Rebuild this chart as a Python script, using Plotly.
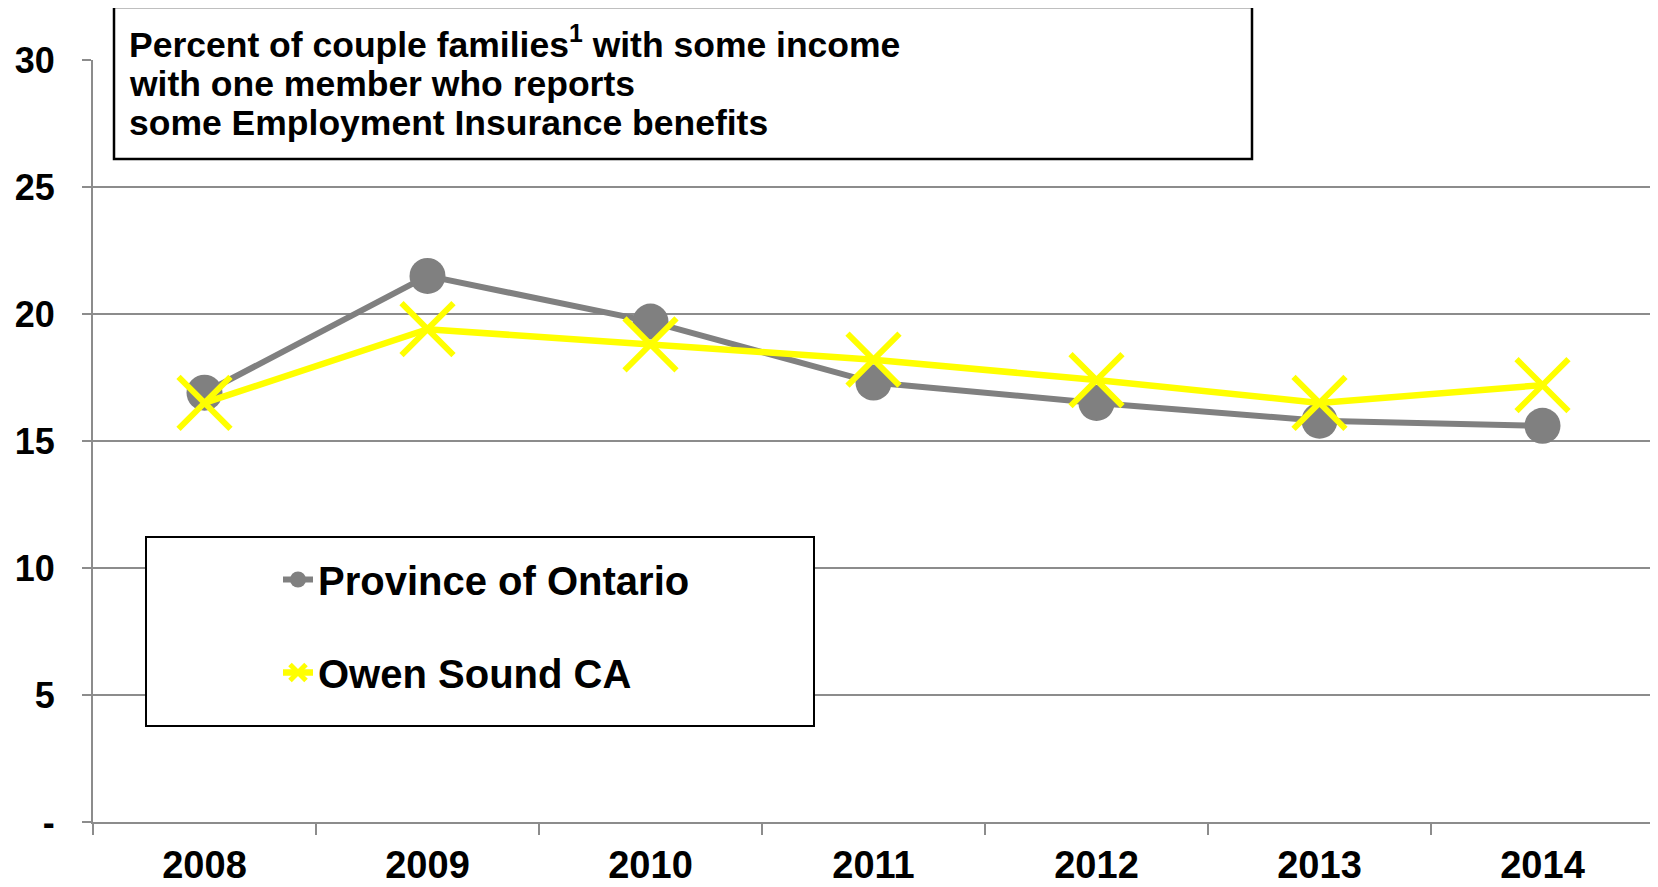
import plotly.graph_objects as go

# ---- data ----
years = ["2008", "2009", "2010", "2011", "2012", "2013", "2014"]
ontario = [16.9, 21.5, 19.7, 17.3, 16.5, 15.8, 15.6]
owen_sound = [16.5, 19.4, 18.8, 18.2, 17.4, 16.5, 17.2]
series_names = ["Province of Ontario", "Owen Sound CA"]
y_tickvals = [0, 5, 10, 15, 20, 25, 30]
y_ticktext = ["-", "5", "10", "15", "20", "25", "30"]
title_lines = [
    "Percent of couple families<sup>1</sup> with some income",
    "with one member who reports",
    "some Employment Insurance benefits",
]

# ---- layout geometry (reference pixels; page body has an 8px margin) ----
OFF = 8
W, H = 1658 - OFF, 887 - OFF
PL, PR, PT, PB = 93, 1654, 60, 822
FONT = "Liberation Sans, Arial, sans-serif"


def px(x):
    return (x - PL) / (PR - PL)


def py(y):
    return (PB - y) / (PB - PT)


GRAY = "#808080"
YELLOW = "#FFFF00"
AXIS_GRAY = "#8C8C8C"

fig = go.Figure()
fig.add_trace(go.Scatter(
    x=years, y=ontario, name=series_names[0], mode="lines+markers",
    line=dict(color=GRAY, width=6),
    marker=dict(symbol="circle", size=36, color=GRAY),
    legendgroup="a",
))
fig.add_trace(go.Scatter(
    x=years, y=owen_sound, name=series_names[1], mode="lines+markers",
    line=dict(color=YELLOW, width=6.5),
    marker=dict(symbol="x-thin", size=52, color=YELLOW,
                line=dict(color=YELLOW, width=6)),
    legendgroup="b",
))

shapes = [
    # title box
    dict(type="rect", xref="paper", yref="paper",
         x0=px(114), x1=px(1252), y0=py(159), y1=py(7),
         line=dict(color="black", width=2.5), fillcolor="white", layer="above"),
    # legend box
    dict(type="rect", xref="paper", yref="paper",
         x0=px(146), x1=px(814), y0=py(726), y1=py(537),
         line=dict(color="black", width=2), fillcolor="white", layer="above"),
]

annotations = []
for t, yc in zip(title_lines, [43, 84, 123]):
    annotations.append(dict(
        text=t, xref="paper", yref="paper", x=px(127), y=py(yc),
        xanchor="left", yanchor="middle", showarrow=False,
        font=dict(family=FONT, size=35.5, color="black", weight="bold"),
    ))

fig.update_layout(
    width=W, height=H,
    margin=dict(l=PL - OFF, r=1658 - PR, t=PT - OFF, b=887 - PB, pad=0),
    paper_bgcolor="white", plot_bgcolor="white",
    shapes=shapes, annotations=annotations,
    showlegend=True,
    legend=dict(
        x=px(278), y=py(547), xanchor="left", yanchor="top",
        font=dict(family=FONT, size=40, color="black", weight="bold"),
        bgcolor="rgba(0,0,0,0)", borderwidth=0,
        tracegroupgap=38, itemsizing="trace",
    ),
    xaxis=dict(
        type="category", range=[-0.5, 6.5], automargin=False,
        showgrid=False, showline=True, linecolor=AXIS_GRAY, linewidth=2,
        ticks="outside", tickson="boundaries", ticklen=11,
        tickcolor=AXIS_GRAY, tickwidth=2,
        tickfont=dict(family=FONT, size=38, color="black", weight="bold"),
        ticklabelstandoff=8,
    ),
    yaxis=dict(
        range=[0, 30], tickvals=y_tickvals, ticktext=y_ticktext,
        automargin=False,
        showgrid=True, gridcolor=AXIS_GRAY, gridwidth=2,
        zeroline=False, showline=True, linecolor=AXIS_GRAY, linewidth=2,
        ticks="outside", ticklen=9, tickcolor=AXIS_GRAY, tickwidth=2,
        tickfont=dict(family=FONT, size=36, color="black", weight="bold"),
        ticklabelstandoff=20,
    ),
)

fig.write_html("out.html")
